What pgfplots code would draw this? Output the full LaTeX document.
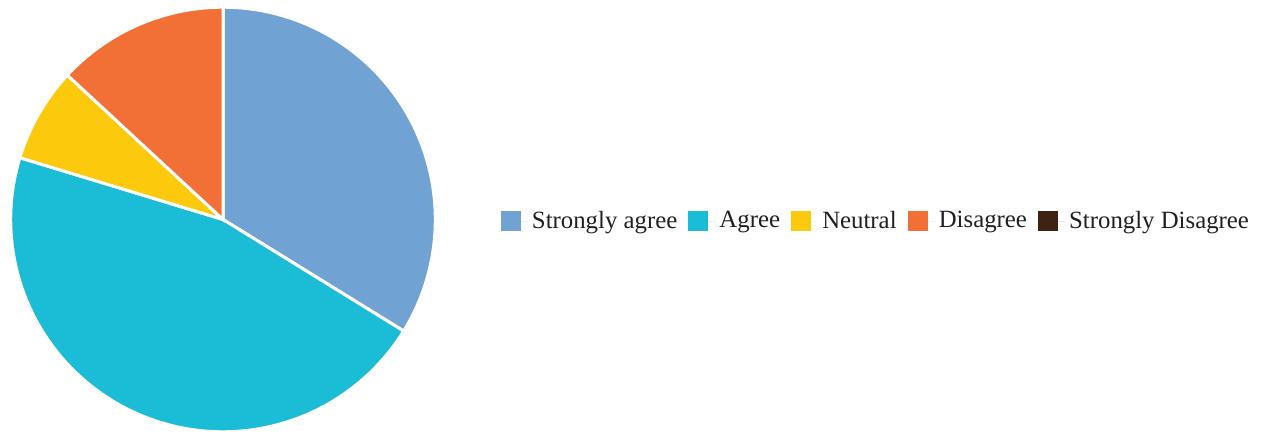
\documentclass[border=0pt]{standalone}
\usepackage{fontspec}
\setmainfont{Liberation Serif}
\usepackage{pgfplots}
\pgfplotsset{compat=1.18}

\definecolor{sagree}{HTML}{70A3D4}
\definecolor{agree}{HTML}{1BBCD6}
\definecolor{neutral}{HTML}{FDC90C}
\definecolor{disagree}{HTML}{F27036}
\definecolor{sdisagree}{HTML}{3E2314}
\definecolor{txt}{HTML}{231F20}

% pie centre and radius in pixel units of the axis
\def\cx{223}
\def\cy{211.5}
\def\rr{212.3}

% #1 colour, #2 share before this slice (%), #3 share of this slice (%)
\newcommand\slice[3]{%
  \addplot[fill=#1, draw=white, line width=1.5pt, samples=90,
    domain={90-3.6*(#2+#3)}:{90-3.6*(#2)}]
    ({\cx+\rr*cos(x)},{\cy+\rr*sin(x)}) -- (axis cs:\cx,\cy) -- cycle;
}

\begin{document}
\begin{tikzpicture}
\begin{axis}[
  width=634pt, height=215.5pt,
  scale only axis,
  xmin=0, xmax=1268, ymin=0, ymax=431,
  hide axis, clip=false,
  legend columns=5,
  legend style={at={(0.6916,0.487)}, anchor=center, draw=none, fill=none,
    text=txt, font=\fontsize{12.4}{14}\selectfont,
    /tikz/every even column/.append style={column sep=3.6pt}},
  legend image code/.code={\fill[#1, draw=none] (0pt,-5pt) rectangle (10pt,5pt);
    \path[draw=none] (10pt,0pt) -- (13.5pt,0pt);},
]
\addplot[draw=none, forget plot] coordinates {(0,0) (1268,431)};
\slice{sagree}{0}{33.8}
\addlegendentry{Strongly agree}
\slice{agree}{33.8}{45.9}
\addlegendentry{Agree}
\slice{neutral}{79.7}{7.2}
\addlegendentry{Neutral}
\slice{disagree}{86.9}{13.1}
\addlegendentry{Disagree}
\addlegendimage{fill=sdisagree, draw=none}
\addlegendentry{Strongly Disagree}
\end{axis}
\end{tikzpicture}
\end{document}
